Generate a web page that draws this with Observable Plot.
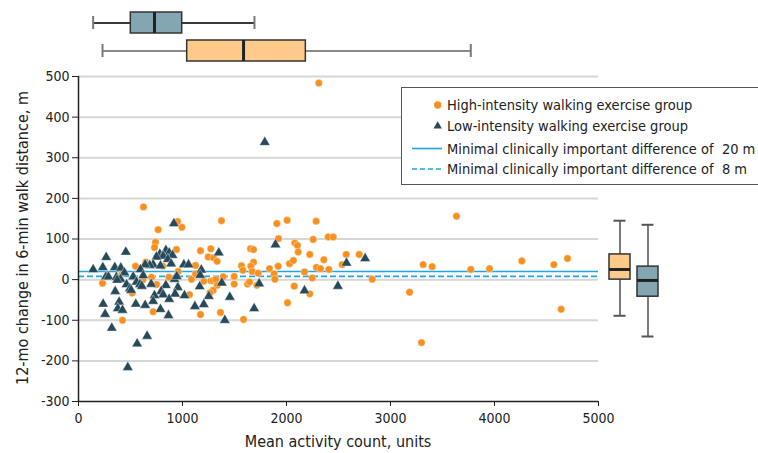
<!DOCTYPE html>
<html>
<head>
<meta charset="utf-8">
<script src="https://cdn.jsdelivr.net/npm/d3@7"></script>
<script src="https://cdn.jsdelivr.net/npm/@observablehq/plot@0.6"></script>
<style>
  html, body { margin: 0; padding: 0; background: #fff; }
  #wrap { position: relative; width: 758px; height: 453px; overflow: hidden; background: #fff; }
  #wrap > * { position: absolute; }
  .lbl { color: #222; white-space: nowrap; }
</style>
</head>
<body>
<div id="wrap"></div>
<script>
// ---------------- data ----------------
const xTicks = [0, 1000, 2000, 3000, 4000, 5000];
const yTicks = [-300, -200, -100, 0, 100, 200, 300, 400, 500];
const mcidValues = [20, 8];

// High-intensity walking exercise group: [mean activity count, 12-mo change]
const highIntensity = [
  [625,179],[952,143],[994,129],[766,123],[740,92],[731,79],[942,74],[647,43],[548,33],[811,33],
  [958,20],[420,16],[619,0],[702,6],[869,6],[750,-12],[231,-9],[516,-33],[718,-79],[423,-100],[1067,-37],
  [1375,145],[1907,138],[2006,146],[1923,101],[2080,90],[2105,84],[1173,71],[1272,76],[1247,56],[1298,54],
  [1333,45],[1125,35],[1654,76],[1683,74],[1683,43],[1567,34],[1580,23],[1657,33],[1670,20],[1728,16],
  [1837,27],[1920,33],[2029,39],[2066,47],[1881,14],[1888,1],[1087,1],[1125,14],[1205,-4],[1272,-3],
  [1295,-2],[1320,0],[1335,-14],[1295,-26],[1265,-32],[1391,7],[1497,8],[1497,-11],[1625,-11],[1644,-6],
  [1715,-14],[1173,-86],[1365,-81],[1587,-98],[2010,-57],[2074,-16],
  [2311,484],[2285,144],[2256,99],[2401,105],[2449,105],[2112,68],[2224,62],[2359,49],[2574,62],[2699,62],
  [2535,37],[2288,30],[2327,27],[2407,25],[2173,19],[2247,4],[2224,-35],[2824,1],
  [3635,156],[3314,37],[3401,32],[3772,25],[3952,27],[4263,46],[4571,37],[4702,52],[3183,-31],[4641,-73],[3298,-155]
];

// Low-intensity walking exercise group
const lowIntensity = [
  [1791,338],[917,138],[455,68],[266,55],[782,63],[840,72],[872,66],[814,58],[750,56],[904,60],
  [859,50],[891,39],[1013,37],[1058,37],[718,37],[686,35],[641,37],[788,34],[141,25],[234,30],
  [349,30],[407,29],[596,25],[622,10],[442,17],[263,7],[288,7],[365,6],[404,1],[372,-1],
  [526,7],[558,-6],[590,-12],[609,-16],[462,-12],[494,-22],[506,-26],[699,-11],[840,-14],[955,-19],
  [923,1],[945,8],[353,-29],[795,-29],[814,-37],[929,-35],[1019,-39],[731,-39],[872,-48],[551,-60],
  [641,-63],[718,-53],[391,-55],[237,-60],[378,-71],[423,-75],[788,-73],[256,-85],[865,-88],[320,-119],
  [660,-139],[564,-158],[474,-216],
  [1894,86],[1349,66],[1181,24],[1170,11],[1165,-17],[1378,-8],[1253,-41],[1205,-61],[1119,-66],
  [1455,-43],[1407,-100],[1737,-10],[1689,-71],[2173,-27],[2494,-16],[2577,41],[2756,52]
];

// Box plot summaries: activity count (top)
const activityGroups = ["Low", "High"];
const activityMin    = [141, 231];
const activityQ1     = [503, 1045];
const activityMedian = [731, 1587];
const activityQ3     = [997, 2186];
const activityMax    = [1692, 3772];

// Box plot summaries: 12-mo change (right)
const walkGroups = ["High", "Low"];
const walkMin    = [-89, -140];
const walkQ1     = [0, -42];
const walkMedian = [25, -2];
const walkQ3     = [62, 32];
const walkMax    = [145, 135];

const legendLabels = [
  "High-intensity walking exercise group",
  "Low-intensity walking exercise group",
  "Minimal clinically important difference of  20 m",
  "Minimal clinically important difference of  8 m"
];

// ---------------- styles ----------------
const FONT = '"DejaVu Sans Condensed", "DejaVu Sans", sans-serif';
const ORANGE = "#f7901e";
const ORANGE_BOX = "#fdca8a";
const SLATE = "#274a5b";
const SLATE_BOX = "#84a6b3";
const MCID = "#1fa6e0";
const GRID = "#d6d6d6";

const wrap = document.getElementById("wrap");

// ---------------- main scatter ----------------
const main = Plot.plot({
  width: 758, height: 453,
  marginLeft: 78, marginRight: 160, marginTop: 76, marginBottom: 52,
  x: {domain: [0, 5000]},
  y: {domain: [-300, 500]},
  style: {fontFamily: FONT, fontSize: "14px", color: "#222", background: "transparent", overflow: "visible"},
  marks: [
    Plot.gridY(yTicks.filter(d => d > -300), {stroke: GRID, strokeOpacity: 1, strokeWidth: 2}),
    Plot.ruleY([mcidValues[0]], {stroke: MCID, strokeWidth: 1.6}),
    Plot.ruleY([mcidValues[1]], {stroke: MCID, strokeWidth: 1.6, strokeDasharray: "6,3"}),
    Plot.dot(highIntensity, {x: d => d[0], y: d => d[1], r: 3.7, fill: ORANGE, stroke: "#fff", strokeWidth: 0.4}),
    Plot.dot(lowIntensity, {x: d => d[0], y: d => d[1], r: 3.9, symbol: "triangle", fill: SLATE, stroke: "#fff", strokeWidth: 0.4}),
    Plot.axisX({ticks: xTicks, tickSize: 5, tickPadding: 7, label: null, fontSize: 14, tickFormat: d3.format("d")}),
    Plot.axisY({ticks: yTicks, tickSize: 6, tickPadding: 3, label: null, fontSize: 14, tickFormat: d => String(d)}),
    Plot.ruleX([0], {stroke: "#222", strokeWidth: 1.5}),
    Plot.ruleY([-300], {stroke: "#222", strokeWidth: 1.5})
  ]
});
main.style.left = "0px"; main.style.top = "0px";
wrap.appendChild(main);

// ---------------- top box plots (activity count) ----------------
const actTable = activityGroups.map((g, i) => ({
  group: g, min: activityMin[i], q1: activityQ1[i], median: activityMedian[i], q3: activityQ3[i], max: activityMax[i]
}));
const actFill = {Low: SLATE_BOX, High: ORANGE_BOX};
const actWhisker = {Low: "#3a3a3a", High: "#8a8a8a"};
const topBox = Plot.plot({
  width: 758, height: 70,
  marginLeft: 78, marginRight: 160, marginTop: 9, marginBottom: 5,
  x: {domain: [0, 5000], axis: null},
  y: {domain: activityGroups, axis: null, paddingInner: 0.233, paddingOuter: 0.1},
  style: {background: "transparent", overflow: "visible"},
  marks: [
    Plot.ruleY(actTable, {y: "group", x1: "min", x2: "q1", stroke: d => actWhisker[d.group], strokeWidth: 2}),
    Plot.ruleY(actTable, {y: "group", x1: "q3", x2: "max", stroke: d => actWhisker[d.group], strokeWidth: 2}),
    Plot.tickX(actTable, {x: "min", y: "group", stroke: "#7a7a7a", strokeWidth: 2, insetTop: 4, insetBottom: 4}),
    Plot.tickX(actTable, {x: "max", y: "group", stroke: "#7a7a7a", strokeWidth: 2, insetTop: 4, insetBottom: 4}),
    Plot.barX(actTable, {y: "group", x1: "q1", x2: "q3", fill: d => actFill[d.group], stroke: "#333", strokeWidth: 1.5}),
    Plot.tickX(actTable, {x: "median", y: "group", stroke: "#222", strokeWidth: 3})
  ]
});
topBox.style.left = "0px"; topBox.style.top = "0px";
wrap.appendChild(topBox);

// ---------------- right box plots (walk distance change) ----------------
const walkTable = walkGroups.map((g, i) => ({
  group: g, min: walkMin[i], q1: walkQ1[i], median: walkMedian[i], q3: walkQ3[i], max: walkMax[i]
}));
const walkFill = {High: ORANGE_BOX, Low: SLATE_BOX};
const rightBox = Plot.plot({
  width: 80, height: 453,
  marginLeft: 10, marginRight: 19, marginTop: 76, marginBottom: 52,
  y: {domain: [-300, 500], axis: null},
  x: {domain: walkGroups, axis: null, paddingInner: 0.241, paddingOuter: 0},
  style: {background: "transparent", overflow: "visible"},
  marks: [
    Plot.ruleX(walkTable, {x: "group", y1: "min", y2: "max", stroke: "#7a7a7a", strokeWidth: 2}),
    Plot.tickY(walkTable, {y: "min", x: "group", stroke: "#555", strokeWidth: 2, insetLeft: 4.5, insetRight: 4.5}),
    Plot.tickY(walkTable, {y: "max", x: "group", stroke: "#555", strokeWidth: 2, insetLeft: 4.5, insetRight: 4.5}),
    Plot.barY(walkTable, {x: "group", y1: "q1", y2: "q3", fill: d => walkFill[d.group], stroke: "#333", strokeWidth: 1.5}),
    Plot.tickY(walkTable, {y: "median", x: "group", stroke: "#222", strokeWidth: 3})
  ]
});
rightBox.style.left = "598px"; rightBox.style.top = "0px";
wrap.appendChild(rightBox);

// ---------------- legend ----------------
const NS = "http://www.w3.org/2000/svg";
const leg = document.createElementNS(NS, "svg");
leg.setAttribute("width", 758); leg.setAttribute("height", 453);
leg.style.left = "0px"; leg.style.top = "0px";
leg.style.fontFamily = FONT;
const rowY = [105, 125.5, 148.5, 169];
const tx = 447;
let html = `<rect x="401.5" y="87.5" width="420" height="97" fill="#fff" stroke="#555" stroke-width="1"/>`;
html += `<circle cx="437.7" cy="${rowY[0]}" r="3.7" fill="${ORANGE}"/>`;
html += `<path d="M437.7,${rowY[1]-4.3} L441.9,${rowY[1]+3} L433.5,${rowY[1]+3} Z" fill="${SLATE}"/>`;
html += `<line x1="412" x2="442" y1="${rowY[2]}" y2="${rowY[2]}" stroke="${MCID}" stroke-width="1.6"/>`;
html += `<line x1="412" x2="442" y1="${rowY[3]}" y2="${rowY[3]}" stroke="${MCID}" stroke-width="1.6" stroke-dasharray="5,3"/>`;
legendLabels.forEach((t, i) => {
  html += `<text x="${tx}" y="${rowY[i]}" dy="0.35em" font-size="14.5" fill="#222" xml:space="preserve">${t}</text>`;
});
leg.innerHTML = html;
wrap.appendChild(leg);

// ---------------- axis titles ----------------
const xl = document.createElement("div");
xl.className = "lbl";
xl.textContent = "Mean activity count, units";
xl.style.cssText += `font-family:${FONT};font-size:16px;left:78px;width:520px;text-align:center;top:433px;line-height:18px;`;
wrap.appendChild(xl);

const yl = document.createElement("div");
yl.className = "lbl";
yl.textContent = "12-mo change in 6-min walk distance, m";
yl.style.cssText += `font-family:${FONT};font-size:16px;width:400px;text-align:center;line-height:18px;left:${23-200}px;top:${238-9}px;transform:rotate(-90deg);`;
wrap.appendChild(yl);
</script>
</body>
</html>
